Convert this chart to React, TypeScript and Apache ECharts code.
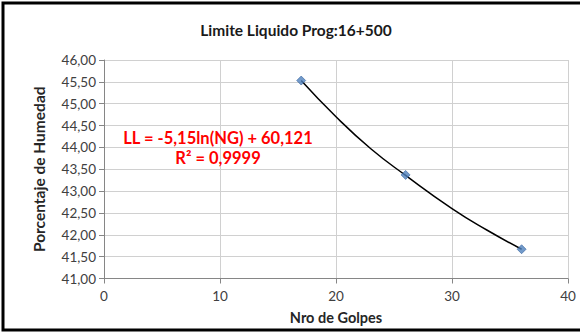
import React, { useEffect, useRef } from "react";
import * as echarts from "echarts";

const golpes = [17, 26, 36];
const humedad = [45.53, 43.37, 41.67];
const trendX = [17, 20, 23, 26, 30, 33, 36];
const trendY = [45.53, 44.70, 43.97, 43.36, 42.60, 42.11, 41.67];
const xTickLabels = [0, 10, 20, 30, 40];
const titleText = "Limite Liquido Prog:16+500";
const equationText = "LL = -5,15ln(NG) + 60,121";
const r2Text = "R² = 0,9999";

const FONT = "Lato, 'Open Sans', sans-serif";

export default function App() {
  const ref = useRef<HTMLDivElement>(null);
  useEffect(() => {
    if (!ref.current) return;
    const chart = echarts.init(ref.current, null, { renderer: "svg" });
    chart.setOption({
      animation: false,
      backgroundColor: "#ffffff",
      textStyle: { fontFamily: FONT },
      grid: { left: 104, right: 12, top: 60, bottom: 53.5 },
      xAxis: {
        type: "value",
        min: 0,
        max: 40,
        interval: 2,
        name: "Nro de Golpes",
        nameLocation: "middle",
        nameGap: 31,
        nameTextStyle: { fontFamily: FONT, fontWeight: "bold", fontSize: 14.5, color: "#262626" },
        axisLine: { show: true, lineStyle: { color: "#868686", width: 1 } },
        axisTick: { show: true, customValues: xTickLabels, length: 5, lineStyle: { color: "#868686" } },
        axisLabel: {
          customValues: xTickLabels,
          fontFamily: FONT,
          fontSize: 13.5,
          color: "#404040",
          margin: 10,
        },
        splitLine: { show: true, lineStyle: { color: "#d0d0d0", width: 1 } },
      },
      yAxis: {
        type: "value",
        min: 41,
        max: 46,
        interval: 0.5,
        name: "Porcentaje de Humedad",
        nameLocation: "middle",
        nameGap: 57,
        nameTextStyle: { fontFamily: FONT, fontWeight: "bold", fontSize: 15.5, color: "#262626" },
        axisLine: { show: true, lineStyle: { color: "#868686", width: 1 } },
        axisTick: { show: true, length: 5, lineStyle: { color: "#868686" } },
        axisLabel: {
          fontFamily: FONT,
          fontSize: 13.5,
          color: "#404040",
          margin: 8,
          formatter: (v: number) => v.toFixed(2).replace(".", ","),
        },
        splitLine: { show: true, lineStyle: { color: "#d0d0d0", width: 1 } },
      },
      series: [
        {
          type: "line",
          data: trendX.map((x, i) => [x, trendY[i]]),
          smooth: true,
          showSymbol: false,
          symbol: "none",
          lineStyle: { color: "#000000", width: 1.5 },
          z: 2,
        },
        {
          type: "scatter",
          data: golpes.map((x, i) => [x, humedad[i]]),
          symbol: "diamond",
          symbolSize: 9,
          itemStyle: { color: "#4F81BD", borderColor: "#3A67A0", borderWidth: 0.8 },
          z: 3,
        },
      ],
      graphic: [
        {
          type: "rect",
          shape: { x: 3, y: 3, width: 620, height: 327 },
          style: { fill: "none", stroke: "#000000", lineWidth: 3 },
          silent: true,
          z: 100,
        },
        {
          type: "text",
          x: 296,
          y: 30,
          style: {
            text: titleText,
            fontFamily: FONT,
            fontWeight: "bold",
            fontSize: 15.5,
            fill: "#1a1a1a",
            align: "center",
            verticalAlign: "middle",
          },
          z: 100,
        },
        {
          type: "text",
          x: 218,
          y: 138,
          style: {
            text: equationText,
            fontFamily: FONT,
            fontWeight: "bold",
            fontSize: 16.5,
            fill: "#ff0000",
            align: "center",
            verticalAlign: "middle",
          },
          z: 100,
        },
        {
          type: "text",
          x: 218,
          y: 158,
          style: {
            text: r2Text,
            fontFamily: FONT,
            fontWeight: "bold",
            fontSize: 16.5,
            fill: "#ff0000",
            align: "center",
            verticalAlign: "middle",
          },
          z: 100,
        },
      ],
    });
    return () => chart.dispose();
  }, []);
  return (
    <div
      ref={ref}
      style={{ position: "fixed", left: 0, top: 0, width: 580, height: 332, background: "#fff" }}
    />
  );
}
